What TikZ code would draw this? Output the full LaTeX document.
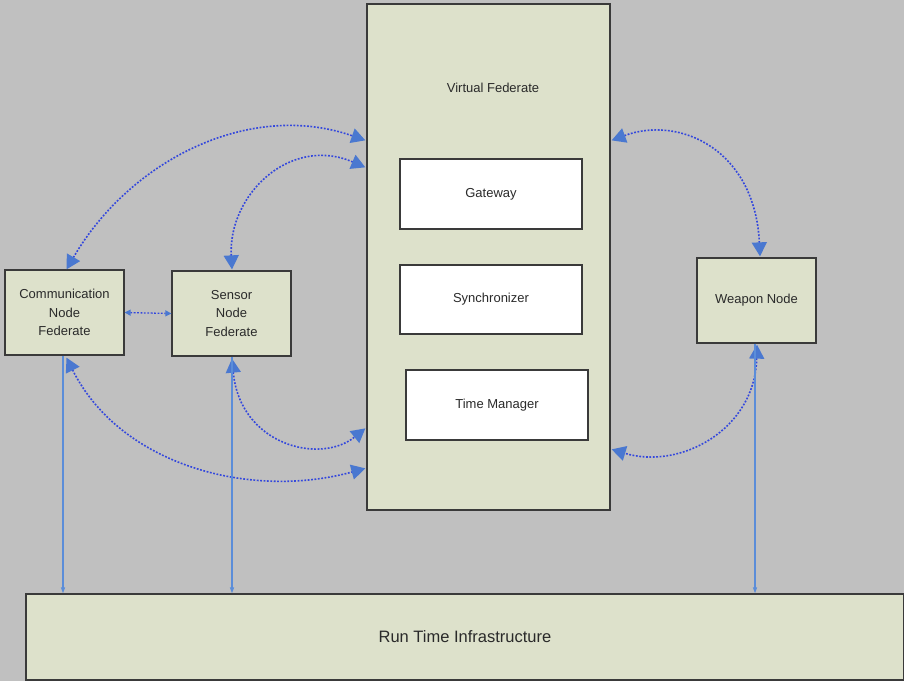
\documentclass[tikz,border=0pt]{standalone}
\usepackage{fontspec}
\setmainfont{Liberation Sans}
\usetikzlibrary{arrows.meta,calc,shadows}
\definecolor{bgGray}{HTML}{C0C0C0}
\definecolor{boxFill}{HTML}{DDE1CB}
\definecolor{boxEdge}{HTML}{3A3A3A}
\definecolor{textGray}{HTML}{2A2A2A}
\definecolor{dotBlue}{HTML}{3347DD}
\definecolor{tipBlue}{HTML}{4A78D0}
\definecolor{lineBlue}{HTML}{5B8DD9}
\tikzset{
  fedbox/.style={draw=boxEdge, line width=1.3pt, fill=boxFill, align=center,
    text=textGray, font=\fontsize{13}{18.5}\selectfont, inner sep=0pt,
    drop shadow={shadow xshift=1.2pt, shadow yshift=-1.2pt, opacity=0.35}},
  compbox/.style={draw=boxEdge, line width=1.3pt, fill=white, align=center,
    text=textGray, font=\fontsize{13}{18.5}\selectfont, inner sep=0pt},
  bigtip/.tip={Triangle[length=14pt,width=15pt,fill=tipBlue,color=tipBlue]},
  smalltip/.tip={Triangle[length=6pt,width=6pt,fill=tipBlue,color=tipBlue]},
  linktip/.tip={Triangle[length=6pt,width=4pt,fill=lineBlue,color=lineBlue]},
  dotlink/.style={draw=dotBlue, line width=1.6pt, dash pattern=on 1.8pt off 1.6pt},
  rtilink/.style={draw=lineBlue, line width=1.1pt},
}
\begin{document}
\begin{tikzpicture}[x=1pt,y=-1pt]
  % canvas
  \fill[bgGray] (0,0) rectangle (904,681);
  \useasboundingbox (0,0) rectangle (904,681);

  % federates
  \node[fedbox, minimum width=243pt, minimum height=506pt] (vf) at (488.5,257) {};
  \node[text=textGray, font=\fontsize{13}{16}\selectfont] (vflabel) at (493,88) {Virtual Federate};
  \node[compbox, minimum width=182pt, minimum height=70pt] (gw) at (491,194) {Gateway};
  \node[compbox, minimum width=182pt, minimum height=69pt] (sync) at (491,299.5) {Synchronizer};
  \node[compbox, minimum width=182pt, minimum height=70pt] (tm) at (497,405) {Time Manager};

  \node[fedbox, minimum width=119pt, minimum height=85pt] (comm) at (64.5,312.5) {Communication\\Node\\Federate};
  \node[fedbox, minimum width=119pt, minimum height=85pt] (sensor) at (231.5,313.5) {Sensor\\Node\\Federate};
  \node[fedbox, minimum width=119pt, minimum height=85pt] (weapon) at (756.5,300.5) {Weapon Node};

  \node[fedbox, minimum width=878pt, minimum height=86pt,
        font=\fontsize{16.5}{20}\selectfont] (rti) at (465,637) {Run Time Infrastructure};

  % attachment points on the federates
  \coordinate (commTop) at ($(comm.north)+(2,0)$);
  \coordinate (commBot) at ($(comm.south)+(2,2)$);
  \coordinate (sensTop) at ($(sensor.north)+(0.5,-1)$);
  \coordinate (sensBot) at ($(sensor.south)+(0.5,2)$);
  \coordinate (weapTop) at ($(weapon.north)+(3.5,-1)$);
  \coordinate (weapBot) at ($(weapon.south)+(0.5,1)$);
  \coordinate (vfL1) at ($(vf.north west)+(-1,137)$);
  \coordinate (vfL2) at ($(vf.north west)+(-1,164)$);
  \coordinate (vfL3) at ($(vf.north west)+(-1,425)$);
  \coordinate (vfL4) at ($(vf.north west)+(-1,465)$);
  \coordinate (vfR1) at ($(vf.north east)+(1,137)$);
  \coordinate (vfR2) at ($(vf.north east)+(1,446)$);

  % dotted interactions with the virtual federate
  \draw[dotlink, {bigtip}-{bigtip}] (commTop) .. controls (130,160) and (250,100) .. (vfL1);
  \draw[dotlink, {bigtip}-{bigtip}] (sensTop) .. controls (228,195) and (290,135) .. (vfL2);
  \draw[dotlink, {bigtip}-{bigtip}] (sensBot) .. controls (240,445) and (320,465) .. (vfL3);
  \draw[dotlink, {bigtip}-{bigtip}] (commBot) .. controls (120,465) and (250,500) .. (vfL4);
  \draw[dotlink, {bigtip}-{bigtip}] (vfR1) .. controls (680,115) and (755,150) .. (weapTop);
  \draw[dotlink, {bigtip}-{bigtip}] (weapBot) .. controls (755,430) and (680,470) .. (vfR2);

  % communication to sensor
  \draw[dotlink, line width=1.3pt, {smalltip}-{smalltip}] (comm.east) -- (sensor.west);

  % links down to the run time infrastructure
  \draw[rtilink, -{linktip}] (comm.south -| 63,0) -- (rti.north -| 63,0);
  \draw[rtilink, -{linktip}] (sensor.south -| 232,0) -- (rti.north -| 232,0);
  \draw[rtilink, -{linktip}] (weapon.south -| 755,0) -- (rti.north -| 755,0);
\end{tikzpicture}
\end{document}
